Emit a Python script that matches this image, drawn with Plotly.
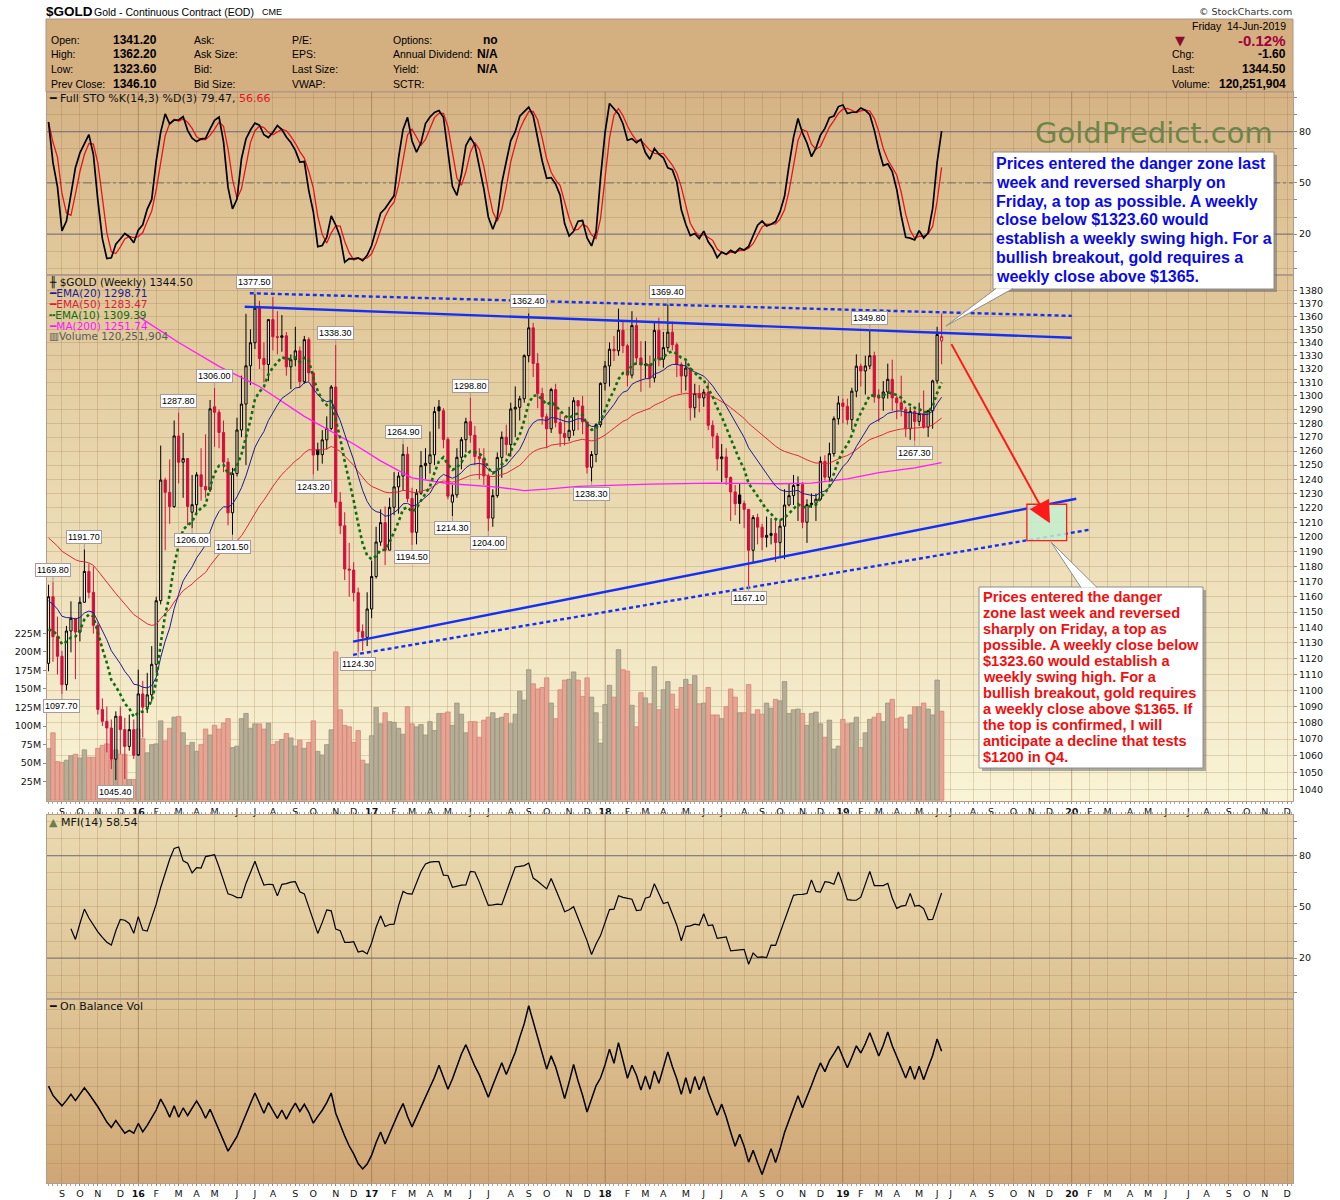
import numpy as np
import pandas as pd
import plotly.graph_objects as go

# ---------------- weekly bars (one per Friday) ----------------
first_week = "2015-08-21"

opens = [
    1117.0, 1160.0, 1134.0, 1121.5, 1103.6, 1137.7, 1145.9, 1137.0, 1156.4, 1176.8,
    1162.9, 1141.4, 1088.2, 1080.9, 1076.8, 1057.9, 1084.0, 1075.8, 1065.6, 1075.8,
    1060.3, 1097.8, 1089.6, 1097.2, 1116.4, 1157.4, 1239.4, 1230.8, 1220.9, 1270.8,
    1252.0, 1254.6, 1217.0, 1222.2, 1243.1, 1234.9, 1232.5, 1292.0, 1288.0, 1273.3,
    1252.1, 1216.6, 1244.0, 1275.1, 1294.0, 1322.4, 1339.8, 1366.3, 1327.9, 1323.4,
    1357.5, 1344.4, 1343.9, 1345.1, 1321.6, 1327.0, 1333.7, 1310.6, 1342.2, 1317.1,
    1261.0, 1257.4, 1268.0, 1276.2, 1306.6, 1224.0, 1207.7, 1178.4, 1177.7, 1162.7,
    1137.4, 1133.6, 1152.0, 1173.4, 1196.6, 1209.8, 1191.1, 1220.4, 1234.6, 1242.2,
    1257.7, 1226.5, 1203.2, 1230.2, 1249.6, 1251.2, 1257.3, 1292.0, 1289.1, 1268.3,
    1224.0, 1229.0, 1255.5, 1268.1, 1281.1, 1271.4, 1256.0, 1254.5, 1242.3, 1212.9,
    1228.5, 1255.4, 1269.9, 1264.6, 1290.4, 1291.6, 1297.9, 1330.0, 1351.2, 1324.1,
    1301.7, 1284.8, 1276.0, 1304.7, 1280.5, 1272.6, 1269.6, 1274.9, 1296.5, 1292.6,
    1281.0, 1248.4, 1257.5, 1278.9, 1309.3, 1322.3, 1334.9, 1333.7, 1349.4, 1337.5,
    1315.4, 1352.9, 1328.3, 1323.0, 1323.4, 1313.3, 1349.2, 1327.3, 1336.1, 1347.9,
    1338.3, 1323.4, 1314.7, 1320.7, 1291.3, 1301.8, 1298.5, 1302.7, 1278.5, 1270.7,
    1254.5, 1255.8, 1241.2, 1231.1, 1229.0, 1223.0, 1219.0, 1191.0, 1213.3, 1206.7,
    1199.8, 1201.1, 1202.4, 1196.2, 1207.4, 1222.0, 1228.5, 1235.6, 1236.2, 1210.1,
    1222.2, 1223.2, 1226.0, 1252.6, 1241.4, 1258.1, 1283.3, 1294.8, 1292.3, 1282.6,
    1303.5, 1322.1, 1318.5, 1322.3, 1330.0, 1299.2, 1298.5, 1302.9, 1312.3, 1298.5,
    1295.0, 1290.1, 1276.0, 1288.6, 1281.3, 1287.0, 1277.2, 1289.1, 1311.1, 1341.2,
]
highs = [
    1168.0, 1169.8, 1147.0, 1125.0, 1141.0, 1157.0, 1146.0, 1160.0, 1191.7, 1182.0,
    1180.0, 1143.0, 1095.0, 1090.0, 1082.0, 1087.0, 1090.0, 1083.0, 1085.0, 1082.0,
    1113.0, 1106.0, 1111.0, 1128.0, 1160.0, 1263.9, 1241.0, 1254.0, 1282.0, 1287.8,
    1273.0, 1255.0, 1243.0, 1245.0, 1262.0, 1272.0, 1297.0, 1306.0, 1290.0, 1282.0,
    1255.0, 1248.0, 1284.0, 1315.0, 1362.0, 1350.0, 1377.5, 1372.0, 1340.0, 1358.0,
    1375.0, 1364.0, 1361.0, 1348.0, 1331.0, 1352.0, 1337.0, 1345.0, 1344.0, 1318.0,
    1266.0, 1275.0, 1285.0, 1308.0, 1338.3, 1231.0, 1217.0, 1196.0, 1183.0, 1166.0,
    1142.0, 1163.0, 1184.0, 1207.0, 1219.0, 1221.0, 1227.0, 1245.0, 1245.0, 1264.9,
    1263.0, 1234.0, 1233.0, 1260.0, 1262.0, 1274.0, 1292.0, 1297.0, 1291.0, 1270.0,
    1236.0, 1262.0, 1270.0, 1284.0, 1298.8, 1278.0, 1262.0, 1262.0, 1244.0, 1233.0,
    1259.0, 1274.0, 1279.0, 1295.0, 1307.0, 1300.0, 1331.0, 1362.4, 1355.0, 1332.0,
    1306.0, 1287.0, 1306.0, 1309.0, 1288.0, 1285.0, 1292.0, 1299.0, 1297.0, 1300.0,
    1281.0, 1260.0, 1280.0, 1310.0, 1326.0, 1340.0, 1345.0, 1366.0, 1357.0, 1339.0,
    1364.0, 1359.0, 1341.0, 1341.0, 1330.0, 1356.0, 1359.0, 1348.0, 1369.4, 1356.0,
    1340.0, 1325.0, 1326.0, 1321.0, 1309.0, 1308.0, 1305.0, 1310.0, 1282.0, 1273.0,
    1265.0, 1262.0, 1242.0, 1236.0, 1237.0, 1225.0, 1219.0, 1215.0, 1216.0, 1209.0,
    1214.0, 1213.0, 1212.0, 1212.0, 1233.0, 1237.0, 1243.0, 1242.0, 1238.0, 1226.0,
    1230.0, 1230.0, 1256.0, 1257.0, 1266.0, 1285.0, 1300.0, 1298.0, 1298.0, 1306.0,
    1331.0, 1324.0, 1330.0, 1349.8, 1333.0, 1305.0, 1311.0, 1324.0, 1327.0, 1300.0,
    1315.0, 1292.0, 1292.0, 1290.0, 1295.0, 1304.0, 1289.0, 1312.0, 1352.0, 1362.2,
]
lows = [
    1112.0, 1118.0, 1110.0, 1097.7, 1100.0, 1124.0, 1107.0, 1131.0, 1156.0, 1159.0,
    1136.0, 1085.0, 1078.0, 1062.0, 1052.0, 1045.4, 1061.0, 1046.0, 1063.0, 1058.0,
    1061.0, 1071.0, 1086.0, 1093.0, 1111.0, 1155.0, 1191.0, 1209.0, 1220.0, 1237.0,
    1227.0, 1208.0, 1206.0, 1215.0, 1225.0, 1227.0, 1231.0, 1263.0, 1262.0, 1245.0,
    1208.0, 1201.5, 1242.0, 1270.0, 1250.0, 1308.0, 1335.0, 1320.0, 1310.0, 1311.0,
    1334.0, 1331.0, 1333.0, 1315.0, 1305.0, 1322.0, 1306.0, 1309.0, 1311.0, 1243.2,
    1246.0, 1251.0, 1261.0, 1275.0, 1220.0, 1202.0, 1171.0, 1160.0, 1157.0, 1124.3,
    1125.0, 1128.0, 1146.0, 1172.0, 1194.0, 1181.0, 1191.0, 1215.0, 1216.0, 1232.0,
    1224.0, 1194.5, 1195.0, 1229.0, 1240.0, 1244.0, 1250.0, 1276.0, 1262.0, 1226.0,
    1214.3, 1227.0, 1247.0, 1259.0, 1266.0, 1250.0, 1240.0, 1236.0, 1204.0, 1207.0,
    1227.0, 1241.0, 1257.0, 1256.0, 1270.0, 1282.0, 1295.0, 1325.0, 1314.0, 1291.0,
    1279.0, 1262.0, 1273.0, 1277.0, 1263.0, 1264.0, 1267.0, 1271.0, 1275.0, 1272.0,
    1244.0, 1238.3, 1252.0, 1277.0, 1304.0, 1307.0, 1326.0, 1330.0, 1332.0, 1307.0,
    1313.0, 1323.0, 1303.0, 1313.0, 1306.0, 1310.0, 1322.0, 1321.0, 1333.0, 1334.0,
    1314.0, 1302.0, 1304.0, 1282.0, 1284.0, 1288.0, 1292.0, 1275.0, 1262.0, 1246.0,
    1238.0, 1236.0, 1211.0, 1215.0, 1209.0, 1206.0, 1167.1, 1183.0, 1195.0, 1191.0,
    1193.0, 1195.0, 1183.0, 1187.0, 1185.0, 1221.0, 1222.0, 1211.0, 1206.0, 1196.0,
    1220.0, 1211.0, 1225.0, 1239.0, 1238.0, 1256.0, 1279.0, 1280.0, 1279.0, 1275.0,
    1299.0, 1307.0, 1301.0, 1320.0, 1295.0, 1281.0, 1289.0, 1298.0, 1289.0, 1283.0,
    1285.0, 1270.0, 1268.0, 1267.3, 1278.0, 1276.0, 1270.0, 1276.0, 1309.0, 1323.6,
]
closes = [
    1160.0, 1134.0, 1121.5, 1103.6, 1137.7, 1145.9, 1137.0, 1156.4, 1176.8, 1162.9,
    1141.4, 1088.2, 1080.9, 1076.8, 1057.9, 1084.0, 1075.8, 1065.6, 1075.8, 1060.3,
    1097.8, 1089.6, 1097.2, 1116.4, 1157.4, 1239.4, 1230.8, 1220.9, 1270.8, 1252.0,
    1254.6, 1221.0, 1222.2, 1243.1, 1234.9, 1232.5, 1290.5, 1288.0, 1273.3, 1252.1,
    1216.6, 1244.0, 1275.1, 1294.0, 1322.4, 1339.8, 1366.3, 1327.9, 1323.4, 1357.5,
    1344.4, 1343.9, 1345.1, 1321.6, 1327.0, 1333.7, 1310.6, 1342.2, 1317.1, 1257.1,
    1257.4, 1268.0, 1276.2, 1306.6, 1224.0, 1207.7, 1178.4, 1177.7, 1162.7, 1137.4,
    1133.6, 1152.0, 1173.4, 1196.6, 1209.8, 1191.1, 1220.4, 1234.6, 1242.2, 1257.7,
    1226.5, 1203.2, 1230.2, 1249.6, 1251.2, 1257.3, 1288.5, 1289.1, 1268.3, 1228.1,
    1229.0, 1255.5, 1268.1, 1281.1, 1271.4, 1256.0, 1254.5, 1242.3, 1212.9, 1228.5,
    1255.4, 1269.9, 1264.6, 1290.4, 1291.6, 1297.9, 1330.0, 1351.2, 1324.1, 1301.7,
    1284.8, 1276.0, 1304.7, 1280.5, 1272.6, 1269.6, 1274.9, 1296.5, 1292.6, 1281.0,
    1248.4, 1257.5, 1278.9, 1309.3, 1322.3, 1334.9, 1333.7, 1349.4, 1337.5, 1315.4,
    1352.9, 1328.3, 1323.0, 1323.4, 1313.3, 1349.2, 1327.3, 1336.1, 1347.9, 1338.3,
    1323.4, 1314.7, 1320.7, 1291.3, 1301.8, 1298.5, 1302.7, 1278.5, 1270.7, 1254.5,
    1255.8, 1241.2, 1231.1, 1222.9, 1223.0, 1219.0, 1191.0, 1213.3, 1206.7, 1199.8,
    1201.1, 1202.4, 1196.2, 1207.4, 1222.0, 1228.5, 1235.6, 1236.2, 1210.1, 1222.2,
    1223.2, 1226.0, 1252.6, 1241.4, 1258.1, 1283.3, 1294.8, 1292.3, 1282.6, 1303.5,
    1322.1, 1318.5, 1322.3, 1330.0, 1299.2, 1298.5, 1302.9, 1312.3, 1298.5, 1295.0,
    1290.1, 1276.0, 1288.6, 1281.3, 1287.0, 1277.2, 1289.1, 1311.1, 1346.1, 1344.5,
]
volume_m = [  # millions
    70, 91, 52, 51, 54, 60, 62, 57, 68, 58,
    58, 70, 74, 76, 54, 68, 62, 62, 28, 28,
    96, 83, 64, 75, 76, 107, 80, 97, 112, 113,
    91, 74, 78, 66, 75, 96, 88, 101, 96, 104,
    110, 71, 73, 110, 117, 97, 103, 103, 96, 104,
    75, 79, 82, 90, 84, 73, 81, 70, 78, 107,
    66, 61, 75, 95, 200, 122, 101, 99, 78, 94,
    54, 49, 87, 125, 103, 118, 106, 105, 97, 89,
    126, 103, 99, 102, 88, 106, 94, 117, 117, 119,
    101, 131, 116, 91, 106, 106, 85, 108, 112, 118,
    110, 112, 117, 103, 116, 147, 135, 176, 157, 150,
    152, 165, 131, 110, 149, 162, 163, 173, 162, 140,
    165, 139, 118, 77, 129, 155, 139, 203, 176, 174,
    128, 99, 145, 138, 130, 180, 122, 149, 160, 143,
    123, 152, 163, 156, 168, 130, 131, 152, 115, 115,
    110, 126, 150, 139, 118, 118, 156, 116, 122, 116,
    131, 124, 136, 134, 160, 117, 122, 123, 117, 101,
    117, 119, 103, 85, 108, 69, 73, 109, 103, 104,
    112, 71, 91, 109, 112, 117, 106, 131, 136, 110,
    112, 96, 115, 126, 126, 131, 123, 115, 162, 120,
]

# moving-average levels at the left edge of the chart
ema10_start = 1134.0
ema20_start = 1157.0
ema50_start = 1201.0

# 200-week MA
ma200_dates = ["2016-01-08", "2016-03-11", "2016-05-13", "2016-07-15", "2016-09-23",
               "2016-11-18", "2016-12-09", "2017-01-20", "2017-03-10", "2017-05-05",
               "2017-07-21", "2017-09-01", "2017-10-06", "2017-11-24", "2018-03-16",
               "2018-06-22", "2018-10-05", "2018-11-23", "2019-01-18", "2019-03-08",
               "2019-05-03", "2019-06-14"]
ma200_vals = [1360.0, 1340.0, 1322.0, 1307.0, 1285.0, 1270.0, 1265.0, 1253.0, 1241.0,
              1237.0, 1234.5, 1232.0, 1233.0, 1235.0, 1236.6, 1237.3, 1236.8, 1237.3,
              1240.3, 1244.6, 1248.0, 1251.7]

# weeks carrying a swing-high / swing-low label
label_high_weeks = [1, 8, 29, 37, 46, 64, 79, 94, 107, 138, 183]
label_low_weeks = [3, 15, 32, 41, 59, 69, 81, 90, 98, 121, 156, 193]

# hand-drawn trendlines, target arrow and target zone
res_solid_dates, res_solid_prices = ["2016-06-22", "2020-01-03"], [1367.5, 1343.6]
res_dot_dates, res_dot_prices = ["2016-06-30", "2020-01-03"], [1378.0, 1360.4]
sup_solid_dates, sup_solid_prices = ["2016-12-08", "2020-01-10"], [1130.9, 1226.3]
sup_dot_dates, sup_dot_prices = ["2016-12-08", "2020-01-31"], [1122.4, 1205.0]
arrow_dates, arrow_prices = ["2019-06-28", "2019-11-30"], [1339.9, 1209.4]
zone_dates, zone_prices = ["2019-10-25", "2019-12-26"], [1197.6, 1222.5]

blue_note = ["Prices entered the danger zone last",
             "week and reversed sharply on",
             "Friday, a top as possible. A weekly",
             "close below $1323.60 would",
             "establish a weekly swing high. For a",
             "bullish breakout, gold requires a",
             "weekly close above $1365."]
red_note = ["Prices entered the danger",
            "zone last week and reversed",
            "sharply on Friday, a top as",
            "possible. A weekly close below",
            "$1323.60 would establish a",
            "weekly swing high. For a",
            "bullish breakout, gold requires",
            "a weekly close above $1365. If",
            "the top is confirmed, I will",
            "anticipate a decline that tests",
            "$1200 in Q4."]

# ---------------- derived series ----------------
weeks = pd.date_range(first_week, periods=len(closes), freq="7D")
o, h, l, c = (np.array(v, dtype=float) for v in (opens, highs, lows, closes))
vol = np.array(volume_m, dtype=float) * 1e6
prev_close = np.r_[o[0], c[:-1]]
down = c < prev_close


def ema(seed, span):
    s = pd.Series(np.r_[seed, c]).ewm(span=span, adjust=False).mean()
    return s.to_numpy()[1:]


ema10, ema20, ema50 = ema(ema10_start, 10), ema(ema20_start, 20), ema(ema50_start, 50)

hs, ls, cs = pd.Series(h), pd.Series(l), pd.Series(c)
hh = hs.rolling(14, min_periods=1).max()
ll = ls.rolling(14, min_periods=1).min()
fast_k = 100 * (cs - ll) / (hh - ll)
sto_k = fast_k.rolling(3, min_periods=1).mean()
sto_d = sto_k.rolling(3, min_periods=1).mean()

tp = (hs + ls + cs) / 3
flow = tp * vol
dtp = tp.diff()
pos = flow.where(dtp > 0, 0.0).rolling(14, min_periods=6).sum()
neg = flow.where(dtp < 0, 0.0).rolling(14, min_periods=6).sum()
mfi = 100 - 100 / (1 + pos / neg)

obv = np.cumsum(np.sign(np.r_[0, np.diff(c)]) * vol)

# ---------------- geometry helpers (pixels -> paper) ----------------
W, H = 1340, 1200
ML, MR, MT, MB = 47, 47, 92, 17
PW, PH = W - ML - MR, H - MT - MB


def px(x):
    return (x - ML) / PW


def py(y):
    return (H - MB - y) / PH


sto_px, price_px, mfi_px, obv_px = (92, 275), (275, 801), (815, 999), (999, 1183)


def dom(p):
    return [py(p[1]), py(p[0])]


bar0_px, px_per_day = 48.5, 4.488 / 7
t0 = pd.Timestamp(first_week)
x_start = t0 + pd.Timedelta(days=(ML - bar0_px) / px_per_day)
x_end = t0 + pd.Timedelta(days=(W - MR - bar0_px) / px_per_day)

# month ticks: first full trading week of each month
tickvals, ticktext, year_ticks = [], [], []
for yr in range(2015, 2021):
    for m in range(1, 13):
        if (yr, m) < (2015, 9):
            continue
        d = pd.Timestamp(yr, m, 5)
        d = d + pd.Timedelta(days=(4 - d.weekday()) % 7)
        if d > weeks[-1]:
            d -= pd.Timedelta(days=7)
        tickvals.append(d.strftime("%Y-%m-%d"))
        ticktext.append(f"<b>{yr % 100}</b>" if m == 1 else "JFMAMJJASOND"[m - 1])
        if m == 1:
            year_ticks.append(d.strftime("%Y-%m-%d"))

# ---------------- traces ----------------
RED = "#D20F3C"
fig = go.Figure()

fig.add_trace(go.Bar(
    x=weeks, y=vol, width=7 * 86400000,
    marker=dict(color=np.where(down, "#E6A594", "#B5AD95"),
                line=dict(color=np.where(down, "#D27E6D", "#958C76"), width=0.7)),
    xaxis="x2", yaxis="y2", hoverinfo="skip"))

fig.add_trace(go.Scatter(x=ma200_dates, y=ma200_vals, mode="lines",
                         line=dict(color="#FF1CFF", width=1.3), xaxis="x2", yaxis="y3"))
fig.add_trace(go.Scatter(x=weeks, y=ema50, mode="lines",
                         line=dict(color="#E0283C", width=1), xaxis="x2", yaxis="y3"))
fig.add_trace(go.Scatter(x=weeks, y=ema20, mode="lines",
                         line=dict(color="#1C1C96", width=1), xaxis="x2", yaxis="y3"))
fig.add_trace(go.Scatter(x=weeks, y=ema10, mode="lines",
                         line=dict(color="#0E6E0E", width=2.6, dash="dot"), xaxis="x2", yaxis="y3"))

for mask, col in ((~down, "#000000"), (down, RED)):
    fig.add_trace(go.Candlestick(
        x=weeks[mask], open=o[mask], high=h[mask], low=l[mask], close=c[mask],
        increasing=dict(line=dict(color=col, width=1), fillcolor="rgba(255,255,255,0.3)"),
        decreasing=dict(line=dict(color=col, width=1), fillcolor=col),
        whiskerwidth=0, xaxis="x2", yaxis="y3", hoverinfo="skip"))

BLUE = "#1530F5"
for dts, prs, dash in ((res_solid_dates, res_solid_prices, "solid"),
                       (res_dot_dates, res_dot_prices, "4px,3px"),
                       (sup_solid_dates, sup_solid_prices, "solid"),
                       (sup_dot_dates, sup_dot_prices, "4px,3px")):
    fig.add_trace(go.Scatter(x=dts, y=prs, mode="lines", line=dict(color=BLUE, width=2.4, dash=dash),
                             xaxis="x2", yaxis="y3", hoverinfo="skip"))

fig.add_trace(go.Scatter(
    x=[zone_dates[0], zone_dates[1], zone_dates[1], zone_dates[0], zone_dates[0]],
    y=[zone_prices[0], zone_prices[0], zone_prices[1], zone_prices[1], zone_prices[0]],
    mode="lines", fill="toself", fillcolor="rgba(198,238,206,0.85)",
    line=dict(color="#FF1A1A", width=1.3), xaxis="x2", yaxis="y3", hoverinfo="skip"))

fig.add_trace(go.Scatter(x=weeks, y=sto_d, mode="lines", line=dict(color="#E8141E", width=1.3),
                         xaxis="x3", yaxis="y"))
fig.add_trace(go.Scatter(x=weeks, y=sto_k, mode="lines", line=dict(color="#000000", width=1.7),
                         xaxis="x3", yaxis="y"))
fig.add_trace(go.Scatter(x=weeks, y=mfi, mode="lines", line=dict(color="#000000", width=1.2),
                         xaxis="x4", yaxis="y4"))
fig.add_trace(go.Scatter(x=weeks, y=obv, mode="lines", line=dict(color="#000000", width=1.5),
                         xaxis="x", yaxis="y5"))

# ---------------- background shapes ----------------
shapes = []


def hex_rgb(s):
    s = s.lstrip("#")
    return np.array([int(s[i:i + 2], 16) for i in (0, 2, 4)], dtype=float)


def band(p, c_top, c_bot, n):
    top, bot = p
    a, b = hex_rgb(c_top), hex_rgb(c_bot)
    for k in range(n):
        r, g, bl = (a + (b - a) * (k + 0.5) / n).round().astype(int)
        y0 = top + (bot - top) * k / n
        y1 = min(bot, top + (bot - top) * (k + 1) / n + 0.8)
        shapes.append(dict(type="rect", xref="paper", yref="paper", x0=0, x1=1,
                           y0=py(y1), y1=py(y0), fillcolor=f"rgb({r},{g},{bl})",
                           line=dict(width=0), layer="below"))


band(sto_px, "#D5B385", "#E2CA9C", 24)
band(price_px, "#DFC596", "#F9F4D6", 60)
band(mfi_px, "#EBDCB3", "#DDC293", 24)
band(obv_px, "#DFC697", "#CFA675", 24)

# header box
shapes.append(dict(type="rect", xref="paper", yref="paper", x0=px(46), x1=px(1293),
                   y0=py(92), y1=py(19), fillcolor="#D4AF80",
                   line=dict(color="#B09484", width=1), layer="below"))

# year separator lines
for yt in year_ticks:
    for p in (sto_px, price_px, mfi_px, obv_px):
        shapes.append(dict(type="line", xref="x", yref="paper", x0=yt, x1=yt,
                           y0=py(p[1]), y1=py(p[0]), line=dict(color="rgba(130,95,60,0.35)", width=1),
                           layer="below"))

# indicator reference lines
for yref, lv in (("y", 20), ("y", 80), ("y4", 20), ("y4", 80)):
    shapes.append(dict(type="line", xref="paper", yref=yref, x0=0, x1=1, y0=lv, y1=lv,
                       line=dict(color="#6C7088", width=1), layer="below"))
shapes.append(dict(type="line", xref="paper", yref="y", x0=0, x1=1, y0=50, y1=50,
                   line=dict(color="#707070", width=1, dash="dashdot"), layer="below"))


def callout(box, tip, base, shadow=3):
    x0, y0, x1, y1 = box
    shapes.append(dict(type="rect", xref="paper", yref="paper", x0=px(x0 + shadow), x1=px(x1 + shadow),
                       y0=py(y1 + shadow), y1=py(y0 + shadow), fillcolor="rgba(110,110,110,0.55)",
                       line=dict(width=0), layer="above"))
    shapes.append(dict(type="rect", xref="paper", yref="paper", x0=px(x0), x1=px(x1),
                       y0=py(y1), y1=py(y0), fillcolor="white",
                       line=dict(color="#8C8C8C", width=1), layer="above"))
    (bx0, by0), (bx1, by1) = base
    path = f"M {px(bx0)},{py(by0)} L {px(tip[0])},{py(tip[1])} L {px(bx1)},{py(by1)} Z"
    shapes.append(dict(type="path", xref="paper", yref="paper", path=path, fillcolor="white",
                       line=dict(width=0), layer="above"))
    for bx, by in base:
        shapes.append(dict(type="line", xref="paper", yref="paper", x0=px(bx), y0=py(by),
                           x1=px(tip[0]), y1=py(tip[1]), line=dict(color="#8C8C8C", width=1),
                           layer="above"))


callout((993, 152, 1274, 289), (946, 326), ((996, 288.5), (1013, 288.5)))
callout((979, 587, 1203, 768), (1051, 542), ((1081, 587.5), (1097, 587.5)))

# ---------------- text ----------------
ann = []


def txt(x, y, text, size=11, color="#000", family="DejaVu Sans", xanchor="left"):
    ann.append(dict(xref="paper", yref="paper", x=px(x), y=py(y), text=text, showarrow=False,
                    xanchor=xanchor, yanchor="middle", borderpad=0,
                    font=dict(family=family, size=size, color=color)))


ARIAL = "Liberation Sans"
txt(45, 11.5, "<b>$GOLD</b>", 13.5, "#000", ARIAL)
txt(93, 11.5, "Gold - Continuous Contract (EOD)", 10.5, "#000", ARIAL)
txt(261, 12, "CME", 9, "#000", ARIAL)
txt(1293, 11.5, "© StockCharts.com", 9.5, "#333", xanchor="right")

rows_y = [40, 54.5, 69, 83.5]
for y, lab, val in zip(rows_y, ["Open:", "High:", "Low:", "Prev Close:"],
                       ["1341.20", "1362.20", "1323.60", "1346.10"]):
    txt(50, y, lab, 10.5, "#000", ARIAL)
    txt(112, y, f"<b>{val}</b>", 12, "#000", ARIAL)
for y, lab in zip(rows_y, ["Ask:", "Ask Size:", "Bid:", "Bid Size:"]):
    txt(193, y, lab, 10.5, "#000", ARIAL)
for y, lab in zip(rows_y, ["P/E:", "EPS:", "Last Size:", "VWAP:"]):
    txt(291, y, lab, 10.5, "#000", ARIAL)
for y, lab, val in zip(rows_y, ["Options:", "Annual Dividend:", "Yield:", "SCTR:"],
                       ["no", "N/A", "N/A", ""]):
    txt(392, y, lab, 10.5, "#000", ARIAL)
    if val:
        txt(499, y, f"<b>{val}</b>", 12, "#000", ARIAL, xanchor="right")

txt(1287, 25.7, "Friday  14-Jun-2019", 10.5, "#000", ARIAL, xanchor="right")
txt(1180, 41, "▼", 13, "#8B0A32", xanchor="center")
txt(1287, 41, "<b>-0.12%</b>", 15, "#A0003C", ARIAL, xanchor="right")
for y, lab, val in zip(rows_y[1:], ["Chg:", "Last:", "Volume:"], ["-1.60", "1344.50", "120,251,904"]):
    txt(1171, y, lab, 10.5, "#000", ARIAL)
    txt(1287, y, f"<b>{val}</b>", 12, "#000", ARIAL, xanchor="right")

txt(48, 98.5, "━ Full STO %K(14,3) %D(3) 79.47, <span style='color:#E8141E'>56.66</span>", 11, "#111")
txt(1154, 133, "GoldPredict.com", 29, "#6F8546", xanchor="center")

legend_rows = [("╫ $GOLD (Weekly) 1344.50", "#111"),
               ("━EMA(20) 1298.71", "#1C1C96"),
               ("━EMA(50) 1283.47", "#D81E3A"),
               ("╍EMA(10) 1309.39", "#0E6E0E"),
               ("━MA(200) 1251.74", "#FF14FF"),
               ("▥Volume 120,251,904", "#5A5A5A")]
for (t, col), y in zip(legend_rows, [282.3, 293.3, 304.3, 315, 325.7, 336.4]):
    txt(48, y, t, 10.5, col)

txt(48, 822, "<span style='color:#6E7E46'>▲</span> MFI(14) 58.54", 11, "#111")
txt(48, 1006.3, "━ On Balance Vol", 11, "#111")

for lines, (x0, y0, dy), size, col in ((blue_note, (995, 163.3, 18.9), 16, "#0A0AE6"),
                                       (red_note, (981.5, 597.3, 15.97), 14.6, "#F01010")):
    for k, line in enumerate(lines):
        txt(x0, y0 + k * dy, f"<b>{line}</b>", size, col, ARIAL)

# swing-high / swing-low price labels
for idx_list, vals, off in ((label_high_weeks, h, -12), (label_low_weeks, l, 12)):
    for i in idx_list:
        ann.append(dict(xref="x2", yref="y3", x=weeks[i], y=np.log10(vals[i]), text=f"{vals[i]:.2f}",
                        showarrow=True, arrowhead=0, arrowwidth=1, arrowcolor="#A89A9A", ax=0, ay=off,
                        bgcolor="white", bordercolor="#A89A9A", borderwidth=1, borderpad=1,
                        font=dict(family=ARIAL, size=9, color="#000")))

# red projection arrow
ann.append(dict(xref="x2", yref="y3", axref="x2", ayref="y3",
                x=arrow_dates[1], y=np.log10(arrow_prices[1]),
                ax=arrow_dates[0], ay=np.log10(arrow_prices[0]), text="",
                showarrow=True, arrowhead=2, arrowsize=2.2, arrowwidth=2, arrowcolor="#FF1A1A"))

# ---------------- axes ----------------
grid = "rgba(140,100,60,0.22)"
border = "#B49C8C"
tick_font = dict(family="DejaVu Sans", size=9.5, color="#111")
xbase = dict(type="date", range=[x_start, x_end], tickvals=tickvals, ticktext=ticktext,
             showgrid=True, gridcolor=grid, gridwidth=1, zeroline=False,
             showline=True, linecolor=border, mirror=True, tickfont=tick_font,
             ticks="outside", ticklen=2, tickcolor="#A08878",
             minor=dict(ticks="outside", ticklen=2, tickcolor="#B8A090", dtick=7 * 86400000,
                        tick0=first_week, showgrid=False),
             rangeslider=dict(visible=False), fixedrange=True)
ybase = dict(showgrid=True, gridcolor=grid, gridwidth=1, zeroline=False, showline=True,
             linecolor=border, mirror=True, tickfont=tick_font, ticks="outside", ticklen=3,
             tickcolor="#A08878", fixedrange=True)

osc_ticks = list(range(0, 101, 10))
osc_text = [str(v) if v in (20, 50, 80) else "" for v in osc_ticks]

obv_lo, obv_hi = obv.min(), obv.max()
obv_range = [obv_lo - 0.05 * (obv_hi - obv_lo), obv_hi + 0.04 * (obv_hi - obv_lo)]
obv_step = (obv_range[1] - obv_range[0]) * 19.3 / (obv_px[1] - obv_px[0])
obv_ticks = list(obv_range[0] + obv_step * np.arange(1, 10))

vol_ticks = [v * 1e6 for v in range(25, 226, 25)]

fig.update_layout(
    width=W, height=H, template="none",
    margin=dict(l=ML, r=MR, t=MT, b=MB, autoexpand=False),
    paper_bgcolor="white", plot_bgcolor="rgba(0,0,0,0)",
    showlegend=False, hovermode=False,
    font=dict(family="DejaVu Sans", size=10, color="#111"),
    xaxis=dict(xbase, anchor="y5", domain=[0, 1]),
    xaxis2=dict(xbase, anchor="y2", domain=[0, 1], matches="x"),
    xaxis3=dict(xbase, anchor="y", domain=[0, 1], matches="x", showticklabels=False, ticks="",
                minor=dict(ticks="")),
    xaxis4=dict(xbase, anchor="y4", domain=[0, 1], matches="x", showticklabels=False, side="top"),
    yaxis=dict(ybase, domain=dom(sto_px), anchor="x3", side="right", range=[-4, 103.3],
               tickvals=osc_ticks, ticktext=osc_text),
    yaxis2=dict(ybase, domain=dom(price_px), anchor="x2", side="left", range=[-1e6, 708e6],
                tickvals=vol_ticks, ticktext=[f"{int(v / 1e6)}M" for v in vol_ticks], showgrid=False),
    yaxis3=dict(ybase, overlaying="y2", anchor="x2", side="right", type="log",
                range=[np.log10(1033.1), np.log10(1392.3)], tickvals=list(range(1040, 1381, 10))),
    yaxis4=dict(ybase, domain=dom(mfi_px), anchor="x4", side="right", range=[-4, 103.9],
                tickvals=osc_ticks, ticktext=osc_text),
    yaxis5=dict(ybase, domain=dom(obv_px), anchor="x", side="right", range=obv_range,
                tickvals=obv_ticks, showticklabels=False, ticks=""),
    shapes=shapes, annotations=ann,
)

# the page's default 8px body margin would shift the whole figure
fig.write_html("out.html", config={"displayModeBar": False},
               post_script="document.body.style.margin='0';")
